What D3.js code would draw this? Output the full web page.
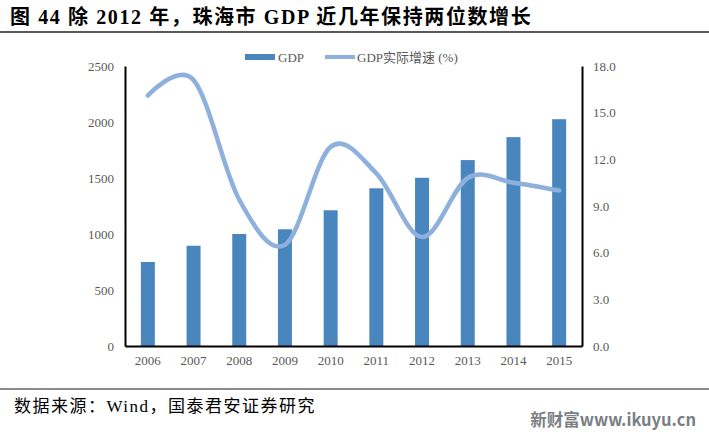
<!DOCTYPE html>
<html><head><meta charset="utf-8">
<script src="https://cdn.jsdelivr.net/npm/d3@7"></script>
<style>body{margin:0;background:#fff}svg{display:block}</style>
</head><body>
<svg id="c" width="709" height="435"></svg>
<script>
const years = ["2006","2007","2008","2009","2010","2011","2012","2013","2014","2015"];
const gdp = [750, 895, 1000, 1042, 1212, 1408, 1502, 1660, 1865, 2025];
const growth = [16.1, 17.1, 9.4, 6.5, 12.8, 11.1, 7.0, 10.8, 10.5, 10.0];
const leftTicks = [0, 500, 1000, 1500, 2000, 2500];
const rightTicks = [0, 3, 6, 9, 12, 15, 18];
const titleText = "图 44 除 2012 年，珠海市 GDP 近几年保持两位数增长";
const sourceText = "数据来源：Wind，国泰君安证券研究";
const watermark = "新财富www.ikuyu.cn";
const legendLabels = ["GDP", "GDP实际增速 (%)"];

const svg = d3.select("#c");
const serif = "'Liberation Serif','Times New Roman','Noto Sans CJK SC',serif";
const L = 125, R = 582, T = 66, B = 346;

// title
svg.append("text").attr("x", 10).attr("y", 24).attr("font-family", serif)
  .attr("font-weight", "bold").attr("font-size", 20).attr("letter-spacing", 1.6)
  .attr("fill", "#000").text(titleText);
svg.append("line").attr("x1", 0).attr("x2", 709).attr("y1", 32).attr("y2", 32)
  .attr("stroke", "#222").attr("stroke-width", 1.5);

const xc = d3.scaleBand().domain(years).range([L, R]);
const yL = d3.scaleLinear().domain([0, 2500]).range([B, T]);
const yR = d3.scaleLinear().domain([0, 18]).range([B, T]);

// bars
svg.append("g").selectAll("rect").data(gdp).join("rect")
  .attr("x", (d, i) => xc(years[i]) + xc.bandwidth() / 2 - 7)
  .attr("width", 14)
  .attr("y", d => yL(d)).attr("height", d => B - yL(d))
  .attr("fill", "#4a86be");

// line
const line = d3.line().x((d, i) => xc(years[i]) + xc.bandwidth() / 2).y(d => yR(d))
  .curve(d3.curveCatmullRom.alpha(0));
svg.append("path").datum(growth).attr("d", line).attr("fill", "none")
  .attr("stroke", "#8eb0dc").attr("stroke-width", 4.5).attr("stroke-linecap", "round");

// axes
const axL = svg.append("g").attr("transform", `translate(${L},0)`)
  .call(d3.axisLeft(yL).tickValues(leftTicks).tickSize(0).tickPadding(11).tickFormat(d3.format("d")));
const axR = svg.append("g").attr("transform", `translate(${R},0)`)
  .call(d3.axisRight(yR).tickValues(rightTicks).tickSize(0).tickPadding(11).tickFormat(d3.format(".1f")));
const axB = svg.append("g").attr("transform", `translate(0,${B})`)
  .call(d3.axisBottom(xc).tickSize(0).tickPadding(10));
[axL, axR, axB].forEach(g => {
  g.select(".domain").attr("stroke", "#000").attr("stroke-width", 2);
  g.selectAll("text").attr("font-family", serif).attr("font-size", 13).attr("fill", "#595959");
});

// legend
svg.append("rect").attr("x", 245).attr("y", 54).attr("width", 30).attr("height", 6).attr("fill", "#4a86be");
svg.append("text").attr("x", 278).attr("y", 62).attr("font-family", serif).attr("font-size", 13)
  .attr("fill", "#595959").text(legendLabels[0]);
svg.append("line").attr("x1", 325).attr("x2", 355).attr("y1", 57).attr("y2", 57)
  .attr("stroke", "#8eb0dc").attr("stroke-width", 4);
svg.append("text").attr("x", 357).attr("y", 62).attr("font-family", serif).attr("font-size", 13)
  .attr("fill", "#595959").text(legendLabels[1]);

// bottom rule & source
svg.append("line").attr("x1", 0).attr("x2", 709).attr("y1", 389).attr("y2", 389)
  .attr("stroke", "#666").attr("stroke-width", 1.5);
svg.append("text").attr("x", 14).attr("y", 412).attr("font-family", serif).attr("font-size", 17)
  .attr("letter-spacing", 1.5).attr("fill", "#000").text(sourceText);
svg.append("text").attr("x", 696).attr("y", 426).attr("text-anchor", "end")
  .attr("font-family", "'Noto Sans CJK SC','DejaVu Sans',sans-serif").attr("font-weight", "bold")
  .attr("font-size", 16.5).attr("fill", "#7a7f85").text(watermark);
</script>
</body></html>
